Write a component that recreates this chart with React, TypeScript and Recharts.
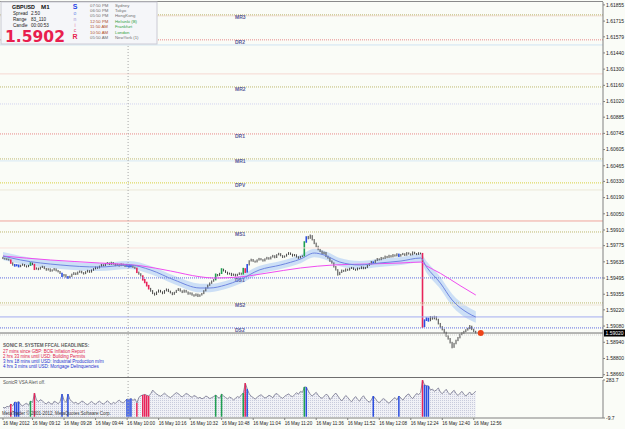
import React from 'react';
import { ComposedChart, Bar, Line, Area, XAxis, YAxis, ReferenceLine, ReferenceDot } from 'recharts';

// ---- price bars (GBPUSD M1, 16 May 2012 08:57 .. 12:57) ----
const closes = [
  1.59665, 1.59660, 1.59658, 1.59652, 1.59625, 1.59610, 1.59602, 1.59608, 1.59595, 1.59605,
  1.59612, 1.59600, 1.59594, 1.59603, 1.59624, 1.59615, 1.59572, 1.59580, 1.59571, 1.59586,
  1.59593, 1.59578, 1.59565, 1.59574, 1.59556, 1.59563, 1.59575, 1.59560, 1.59552, 1.59538,
  1.59512, 1.59524, 1.59506, 1.59498, 1.59509, 1.59527, 1.59539, 1.59528, 1.59545, 1.59553,
  1.59541, 1.59532, 1.59548, 1.59559, 1.59546, 1.59562, 1.59574, 1.59588, 1.59581, 1.59596,
  1.59609, 1.59602, 1.59618, 1.59625, 1.59613, 1.59629, 1.59617, 1.59604, 1.59612, 1.59601,
  1.59615, 1.59606, 1.59598, 1.59609, 1.59593, 1.59602, 1.59590, 1.59581, 1.59546, 1.59532,
  1.59515, 1.59482, 1.59458, 1.59431, 1.59405, 1.59386, 1.59364, 1.59351, 1.59373, 1.59389,
  1.59376, 1.59362, 1.59385, 1.59398, 1.59381, 1.59369, 1.59354, 1.59370, 1.59387, 1.59401,
  1.59384, 1.59372, 1.59389, 1.59375, 1.59358, 1.59366, 1.59350, 1.59342, 1.59356, 1.59339,
  1.59348, 1.59360, 1.59384, 1.59409, 1.59432, 1.59450, 1.59468, 1.59479, 1.59526, 1.59517,
  1.59534, 1.59572, 1.59559, 1.59546, 1.59531, 1.59536, 1.59519, 1.59528, 1.59515, 1.59526,
  1.59538, 1.59529, 1.59575, 1.59546, 1.59608, 1.59642, 1.59655, 1.59641, 1.59634, 1.59650,
  1.59662, 1.59654, 1.59643, 1.59659, 1.59671, 1.59660, 1.59676, 1.59688, 1.59672, 1.59695,
  1.59706, 1.59689, 1.59675, 1.59684, 1.59699, 1.59712, 1.59701, 1.59687, 1.59696, 1.59679,
  1.59668, 1.59680, 1.59685, 1.59805, 1.59846, 1.59838, 1.59862, 1.59828, 1.59796, 1.59769,
  1.59742, 1.59728, 1.59705, 1.59716, 1.59683, 1.59669, 1.59642, 1.59626, 1.59594, 1.59568,
  1.59525, 1.59543, 1.59561, 1.59554, 1.59572, 1.59563, 1.59578, 1.59584, 1.59571, 1.59565,
  1.59580, 1.59576, 1.59589, 1.59577, 1.59585, 1.59604, 1.59618, 1.59635, 1.59627, 1.59646,
  1.59661, 1.59653, 1.59670, 1.59664, 1.59682, 1.59673, 1.59689, 1.59678, 1.59695, 1.59686,
  1.59702, 1.59684, 1.59697, 1.59705, 1.59692, 1.59713, 1.59704, 1.59696, 1.59718, 1.59707,
  1.59699, 1.59712, 1.59706, 1.59090, 1.59130, 1.59148, 1.59126, 1.59159, 1.59142, 1.59161,
  1.59138, 1.59102, 1.59074, 1.59051, 1.59026, 1.58996, 1.58972, 1.58939, 1.58898, 1.58928,
  1.58955, 1.58979, 1.59006, 1.59019, 1.59032, 1.59046, 1.59058, 1.59079, 1.59052, 1.59034, 1.59020,
];
const highs = [
  1.59678, 1.59671, 1.59667, 1.59663, 1.59656, 1.59631, 1.59617, 1.59615, 1.59612, 1.59610,
  1.59620, 1.59616, 1.59605, 1.59609, 1.59632, 1.59629, 1.59618, 1.59587, 1.59585, 1.59592,
  1.59601, 1.59597, 1.59582, 1.59580, 1.59579, 1.59570, 1.59581, 1.59578, 1.59565, 1.59556,
  1.59541, 1.59530, 1.59528, 1.59512, 1.59515, 1.59533, 1.59546, 1.59543, 1.59551, 1.59560,
  1.59558, 1.59546, 1.59554, 1.59566, 1.59563, 1.59569, 1.59580, 1.59595, 1.59593, 1.59602,
  1.59616, 1.59614, 1.59625, 1.59633, 1.59629, 1.59636, 1.59633, 1.59621, 1.59619, 1.59616,
  1.59622, 1.59619, 1.59610, 1.59617, 1.59613, 1.59609, 1.59606, 1.59594, 1.59585, 1.59551,
  1.59537, 1.59519, 1.59487, 1.59463, 1.59436, 1.59410, 1.59391, 1.59369, 1.59379, 1.59396,
  1.59393, 1.59380, 1.59391, 1.59405, 1.59402, 1.59386, 1.59373, 1.59376, 1.59393, 1.59408,
  1.59406, 1.59389, 1.59395, 1.59393, 1.59379, 1.59372, 1.59370, 1.59355, 1.59362, 1.59360,
  1.59354, 1.59366, 1.59390, 1.59415, 1.59438, 1.59457, 1.59474, 1.59486, 1.59534, 1.59530,
  1.59540, 1.59580, 1.59576, 1.59563, 1.59550, 1.59542, 1.59540, 1.59534, 1.59532, 1.59532,
  1.59544, 1.59542, 1.59583, 1.59580, 1.59616, 1.59649, 1.59662, 1.59659, 1.59646, 1.59656,
  1.59669, 1.59667, 1.59658, 1.59665, 1.59678, 1.59675, 1.59682, 1.59695, 1.59692, 1.59701,
  1.59713, 1.59710, 1.59693, 1.59690, 1.59705, 1.59719, 1.59716, 1.59705, 1.59702, 1.59700,
  1.59683, 1.59686, 1.59691, 1.59813, 1.59856, 1.59859, 1.59871, 1.59866, 1.59832, 1.59801,
  1.59774, 1.59747, 1.59732, 1.59723, 1.59720, 1.59688, 1.59673, 1.59647, 1.59630, 1.59599,
  1.59572, 1.59549, 1.59568, 1.59566, 1.59578, 1.59576, 1.59584, 1.59591, 1.59588, 1.59576,
  1.59586, 1.59585, 1.59596, 1.59593, 1.59591, 1.59611, 1.59625, 1.59642, 1.59639, 1.59653,
  1.59668, 1.59665, 1.59677, 1.59674, 1.59689, 1.59686, 1.59696, 1.59693, 1.59702, 1.59699,
  1.59709, 1.59706, 1.59703, 1.59712, 1.59709, 1.59719, 1.59717, 1.59708, 1.59725, 1.59722,
  1.59711, 1.59718, 1.59715, 1.59712, 1.59138, 1.59156, 1.59153, 1.59167, 1.59164, 1.59169,
  1.59166, 1.59143, 1.59107, 1.59079, 1.59056, 1.59031, 1.59001, 1.58977, 1.58944, 1.58935,
  1.58962, 1.58986, 1.59013, 1.59026, 1.59039, 1.59053, 1.59065, 1.59089, 1.59083, 1.59057, 1.59039,
];
const lows = [
  1.59659, 1.59654, 1.59650, 1.59646, 1.59618, 1.59602, 1.59593, 1.59596, 1.59587, 1.59589,
  1.59601, 1.59593, 1.59586, 1.59589, 1.59600, 1.59608, 1.59564, 1.59568, 1.59563, 1.59568,
  1.59582, 1.59572, 1.59558, 1.59560, 1.59549, 1.59551, 1.59559, 1.59553, 1.59544, 1.59530,
  1.59504, 1.59508, 1.59499, 1.59489, 1.59493, 1.59505, 1.59522, 1.59521, 1.59524, 1.59540,
  1.59535, 1.59525, 1.59529, 1.59543, 1.59540, 1.59542, 1.59558, 1.59570, 1.59575, 1.59578,
  1.59592, 1.59596, 1.59599, 1.59613, 1.59607, 1.59609, 1.59611, 1.59598, 1.59599, 1.59594,
  1.59598, 1.59599, 1.59591, 1.59592, 1.59586, 1.59588, 1.59583, 1.59574, 1.59538, 1.59524,
  1.59508, 1.59473, 1.59450, 1.59422, 1.59396, 1.59377, 1.59356, 1.59343, 1.59348, 1.59369,
  1.59370, 1.59355, 1.59359, 1.59380, 1.59374, 1.59362, 1.59347, 1.59350, 1.59366, 1.59383,
  1.59378, 1.59365, 1.59368, 1.59369, 1.59351, 1.59352, 1.59343, 1.59334, 1.59338, 1.59331,
  1.59333, 1.59344, 1.59356, 1.59380, 1.59405, 1.59428, 1.59445, 1.59463, 1.59475, 1.59510,
  1.59513, 1.59530, 1.59552, 1.59539, 1.59524, 1.59525, 1.59512, 1.59514, 1.59508, 1.59511,
  1.59522, 1.59523, 1.59525, 1.59539, 1.59542, 1.59604, 1.59638, 1.59635, 1.59628, 1.59630,
  1.59646, 1.59648, 1.59637, 1.59639, 1.59655, 1.59654, 1.59656, 1.59672, 1.59666, 1.59668,
  1.59691, 1.59683, 1.59668, 1.59671, 1.59680, 1.59695, 1.59695, 1.59680, 1.59683, 1.59672,
  1.59661, 1.59664, 1.59676, 1.59681, 1.59800, 1.59830, 1.59834, 1.59820, 1.59788, 1.59761,
  1.59735, 1.59720, 1.59698, 1.59700, 1.59676, 1.59662, 1.59635, 1.59619, 1.59586, 1.59560,
  1.59516, 1.59520, 1.59539, 1.59548, 1.59550, 1.59557, 1.59559, 1.59573, 1.59565, 1.59558,
  1.59561, 1.59570, 1.59572, 1.59571, 1.59572, 1.59581, 1.59600, 1.59614, 1.59620, 1.59623,
  1.59642, 1.59647, 1.59649, 1.59658, 1.59660, 1.59667, 1.59669, 1.59672, 1.59674, 1.59680,
  1.59682, 1.59677, 1.59680, 1.59693, 1.59686, 1.59688, 1.59698, 1.59689, 1.59692, 1.59701,
  1.59693, 1.59695, 1.59700, 1.59065, 1.59072, 1.59124, 1.59118, 1.59122, 1.59135, 1.59138,
  1.59130, 1.59094, 1.59066, 1.59043, 1.59018, 1.58988, 1.58963, 1.58930, 1.58888, 1.58892,
  1.58923, 1.58950, 1.58974, 1.59001, 1.59014, 1.59027, 1.59041, 1.59053, 1.59045, 1.59028, 1.59016,
];

// ---- SonicR VSA (tick volume) ----
const volumes = [
  72, 68, 80, 75, 98, 85, 114, 110, 116, 92,
  84, 96, 105, 88, 121, 110, 183, 128, 118, 132,
  122, 108, 98, 115, 104, 96, 120, 112, 100, 118,
  175, 126, 110, 175, 132, 118, 104, 112, 98, 106,
  122, 114, 100, 92, 108, 118, 104, 96, 112, 120,
  106, 98, 110, 124, 108, 96, 112, 102, 118, 128,
  114, 106, 120, 137, 134, 140, 126, 138, 106, 150,
  162, 168, 172, 165, 160, 178, 206, 188, 176, 165,
  158, 170, 182, 168, 155, 148, 160, 174, 186, 178,
  164, 152, 168, 180, 172, 158, 150, 164, 156, 142,
  150, 138, 146, 160, 152, 140, 148, 156, 168, 150,
  144, 175, 160, 148, 138, 152, 144, 130, 142, 156,
  148, 170, 183, 260, 214, 176, 158, 148, 136, 150,
  162, 170, 156, 144, 152, 166, 158, 146, 172, 180,
  164, 150, 142, 158, 168, 176, 162, 154, 170, 186,
  174, 196, 188, 230, 229, 198, 172, 160, 176, 188,
  166, 150, 142, 158, 174, 164, 132, 148, 170, 182,
  160, 138, 122, 144, 164, 150, 128, 116, 140, 156,
  134, 120, 146, 162, 138, 124, 112, 130, 160, 142,
  118, 108, 126, 140, 132, 114, 104, 122, 136, 148,
  130, 160, 144, 128, 150, 168, 176, 152, 140, 162,
  180, 170, 188, 283, 245, 240, 238, 206, 214, 196,
  208, 222, 190, 178, 196, 212, 186, 170, 192, 204,
  178, 164, 182, 196, 172, 160, 178, 190, 168, 184, 196,
];
const vsaRed = [4, 16, 68, 71, 72, 73, 74, 123, 213];
const vsaBlue = [6, 7, 8, 30, 33, 63, 64, 65, 124, 154, 188, 201, 214, 215, 216];
const vsaGreen = [14, 108, 111, 122, 153];

// ---- moving averages (read at sample bars) ----
const dragonIdx = [0, 9, 29, 49, 64, 75, 87, 100, 105, 113, 120, 130, 141, 151, 158, 163, 171, 181, 191, 202, 212, 215, 222, 228, 236, 240];
const dragonMid = [1.59685, 1.59651, 1.59608, 1.59590, 1.59608, 1.59564, 1.59478, 1.59409, 1.59409, 1.59435, 1.59478, 1.59564, 1.59608, 1.59659, 1.59711, 1.59694, 1.59633, 1.59608, 1.59625, 1.59642, 1.59668, 1.59590, 1.59452, 1.59305, 1.59193, 1.59158];
const dragonHigh = [1.59720, 1.59686, 1.59643, 1.59625, 1.59643, 1.59600, 1.59514, 1.59446, 1.59445, 1.59470, 1.59513, 1.59599, 1.59643, 1.59695, 1.59748, 1.59730, 1.59669, 1.59643, 1.59660, 1.59677, 1.59704, 1.59640, 1.59505, 1.59358, 1.59245, 1.59208];
const dragonLow = [1.59650, 1.59616, 1.59573, 1.59555, 1.59573, 1.59528, 1.59442, 1.59372, 1.59373, 1.59400, 1.59443, 1.59529, 1.59573, 1.59623, 1.59674, 1.59658, 1.59597, 1.59573, 1.59590, 1.59607, 1.59632, 1.59540, 1.59400, 1.59252, 1.59141, 1.59108];
const slowIdx = [0, 24, 49, 70, 85, 100, 107, 120, 134, 151, 168, 185, 202, 212, 215, 222, 232, 240];
const slowMa = [1.59685, 1.59651, 1.59625, 1.59601, 1.59556, 1.59506, 1.59495, 1.59504, 1.59538, 1.59582, 1.59608, 1.59616, 1.59625, 1.59633, 1.59600, 1.59536, 1.59430, 1.59348];

// ---- levels ----
const levelNames = ['MR3', 'DR2', 'MR2', 'DR1', 'MR1', 'DPV', 'MS1', 'DS1', 'MS2', 'DS2'];
const levelValues = [1.61769, 1.61553, 1.61146, 1.60740, 1.60524, 1.60317, 1.59893, 1.59496, 1.59280, 1.59064];
const extraLevels = [1.61760, 1.61509, 1.61259, 1.60999, 1.60507, 1.60256, 1.59988, 1.59755, 1.59262, 1.59159, 1.59003];
const bidPrice = 1.5902;

// ---- axes ----
const priceTicks = [1.61855, 1.61715, 1.61579, 1.61440, 1.61300, 1.61160, 1.61020, 1.60885, 1.60745, 1.60605, 1.60465, 1.60330, 1.60190, 1.60050, 1.59910, 1.59775, 1.59635, 1.59495, 1.59355, 1.59220, 1.59080, 1.58940, 1.58800, 1.58660];
const volTicks = [283.7, -9.7];
const timeTickIdx = [0, 15, 31, 47, 63, 79, 95, 111, 127, 143, 159, 175, 191, 207, 223, 239];
const timeTickLabels = ['16 May 2012', '16 May 09:12', '16 May 09:28', '16 May 09:44', '16 May 10:00', '16 May 10:16', '16 May 10:32', '16 May 10:48', '16 May 11:04', '16 May 11:20', '16 May 11:36', '16 May 11:52', '16 May 12:08', '16 May 12:24', '16 May 12:40', '16 May 12:56'];

// ---- info panel texts ----
const sessionTimes = ['07:50 PM', '06:50 PM', '05:50 PM', '12:50 PM', '11:50 AM', '10:50 AM', '05:50 AM'];
const sessionNames = ['Sydney', 'Tokyo', 'HongKong', 'Helsinki (B)', 'Frankfurt', 'London', 'NewYork (1)'];
const headlines = [
  '27 mins since GBP: BOE Inflation Report',
  '2 hrs 33 mins until USD: Building Permits',
  '3 hrs 18 mins until USD: Industrial Production m/m',
  '4 hrs 3 mins until USD: Mortgage Delinquencies',
];

// ---------------------------------------------------------------
const FONT = 'Liberation Sans, Arial, sans-serif';
const BG = '#FAFCF7';
const X_DOMAIN = [-1.523, 304.57];
const vsaColor = { r: '#E8245A', b: '#2C4FE0', g: '#1FA050' };

const vsaOf = (i) => (vsaRed.includes(i) ? 'r' : vsaBlue.includes(i) ? 'b' : vsaGreen.includes(i) ? 'g' : '');

const rows = closes.map((c, i) => ({
  i,
  close: c,
  range: [lows[i], highs[i]],
  vsa: vsaOf(i),
  vol: volumes[i],
  volC: vsaOf(i) ? volumes[i] : null,
}));
const dragonRows = dragonIdx.map((i, k) => ({ i, mid: dragonMid[k], band: [dragonLow[k], dragonHigh[k]] }));
const slowRows = slowIdx.map((i, k) => ({ i, ma: slowMa[k] }));

const Candle = (props) => {
  const { x, y, width, height, payload } = props;
  if (x == null || y == null) return null;
  const col = vsaColor[payload.vsa] || '#454545';
  const w = payload.vsa ? 1.6 : 1;
  const cx = x + width / 2;
  return <rect x={cx - w / 2} y={y} width={w} height={Math.max(1, height)} fill={col} />;
};

const VolBar = (props) => {
  const { x, y, width, height, payload } = props;
  if (x == null || y == null || !payload.vsa) return null;
  const cx = x + width / 2;
  return <rect x={cx - 0.75} y={y} width={1.5} height={Math.max(1, height)} fill={vsaColor[payload.vsa]} />;
};

const PriceTick = ({ x, y, payload }) => (
  <text x={x} y={y + 1.8} fontSize={5} fontFamily={FONT} fill="#222" textAnchor="start">
    {Number(payload.value).toFixed(5)}
  </text>
);
const VolTick = ({ x, y, payload }) => (
  <text x={x} y={y + 1.8} fontSize={5} fontFamily={FONT} fill="#222" textAnchor="start">
    {String(payload.value)}
  </text>
);
const TimeTick = ({ x, y, payload }) => {
  const k = timeTickIdx.indexOf(payload.value);
  return (
    <text x={x} y={y + 5.2} fontSize={4.6} fontFamily={FONT} fill="#222" textAnchor="start">
      {timeTickLabels[k]}
    </text>
  );
};

const levelStyle = (name) => {
  if (name === 'DPV') return { stroke: '#D8D040', dash: '1 1' };
  if (name.startsWith('M')) return { stroke: '#BDB870', dash: '1 1' };
  if (name.startsWith('DR')) return { stroke: '#E88888', dash: '1 1' };
  return { stroke: '#5E6AE0', dash: '1 1' };
};
const extraStyles = [
  { stroke: '#F2DCD4', dash: undefined },
  { stroke: '#CFE3F2', dash: undefined },
  { stroke: '#F6D8D2', dash: undefined },
  { stroke: '#D2D4F0', dash: '1 1' },
  { stroke: '#D6E8F4', dash: undefined },
  { stroke: '#ECE8D8', dash: undefined },
  { stroke: '#F0A49C', dash: undefined },
  { stroke: '#F8E0DC', dash: undefined },
  { stroke: '#F0E6D8', dash: undefined },
  { stroke: '#A4ACF0', dash: undefined },
  { stroke: '#D4D4D4', dash: '1 1' },
];

const makeLevelLabel = (name) => (p) => {
  const vb = p.viewBox || {};
  return (
    <text x={235} y={(vb.y || 0) + 4.3} fontSize={5} fontWeight="bold" fontFamily={FONT} fill="#5A5A98">
      {name}
    </text>
  );
};

const BidLabel = (p) => {
  const vb = p.viewBox || {};
  const y = vb.y || 0;
  return (
    <g>
      <rect x={604} y={y - 3.5} width={21} height={7} fill="#000" />
      <text x={605.5} y={y + 1.8} fontSize={5} fontFamily={FONT} fill="#fff">
        {bidPrice.toFixed(5)}
      </text>
    </g>
  );
};

const sonic = [
  { t: 'S', y: 8.6, c: '#1E3FE6', b: true },
  { t: 'o', y: 15, c: '#6C8CE8', b: false },
  { t: 'n', y: 21, c: '#9C8CD0', b: false },
  { t: 'i', y: 26.8, c: '#E07CB0', b: false },
  { t: 'c', y: 32.4, c: '#E0406C', b: false },
  { t: 'R', y: 39, c: '#E81E4E', b: true },
];
const sessionRowY = [7.3, 12.3, 17.3, 22.6, 28.3, 34.3, 39.3];
const timeColors = ['#707070', '#707070', '#707070', '#B0502A', '#B0502A', '#B0502A', '#707070'];
const nameColors = ['#707070', '#707070', '#707070', '#2E9E3A', '#2E9E3A', '#2E9E3A', '#707070'];
const headlineColors = ['#E0204E', '#E0204E', '#2030D0', '#2030D0'];

export default function App() {
  return (
    <div style={{ position: 'absolute', left: 0, top: 0, width: 625, height: 429, background: BG, overflow: 'hidden' }}>
      <div style={{ position: 'absolute', left: 0, top: 0 }}>
        <ComposedChart width={625} height={378} data={rows} margin={{ top: 2, right: 0, bottom: 1, left: 0 }}>
          <XAxis dataKey="i" type="number" domain={X_DOMAIN} allowDataOverflow hide />
          <YAxis
            yAxisId={0}
            orientation="right"
            width={22}
            type="number"
            domain={[1.5864, 1.6188]}
            allowDataOverflow
            ticks={priceTicks}
            interval={0}
            tick={PriceTick}
            tickSize={2}
            tickMargin={1}
            axisLine={{ stroke: '#808080' }}
            tickLine={{ stroke: '#808080' }}
          />
          {extraLevels.map((v, k) => (
            <ReferenceLine key={'x' + k} y={v} stroke={extraStyles[k].stroke} strokeDasharray={extraStyles[k].dash} ifOverflow="visible" />
          ))}
          {levelValues.map((v, k) => {
            const st = levelStyle(levelNames[k]);
            return (
              <ReferenceLine key={'l' + k} y={v} stroke={st.stroke} strokeDasharray={st.dash} label={makeLevelLabel(levelNames[k])} />
            );
          })}
          <ReferenceLine x={63.5} stroke="#A8A8A8" strokeDasharray="1 2" />
          <ReferenceLine y={bidPrice} stroke="#6E6E6E" label={BidLabel} />
          <Area
            data={dragonRows}
            dataKey="band"
            type="monotone"
            stroke="none"
            fill="#C6DBF5"
            fillOpacity={0.9}
            isAnimationActive={false}
          />
          <Bar dataKey="range" barSize={2} shape={Candle} isAnimationActive={false} />
          <Line data={slowRows} dataKey="ma" type="monotone" stroke="#F04CF0" strokeWidth={1} dot={false} isAnimationActive={false} />
          <Line data={dragonRows} dataKey="mid" type="monotone" stroke="#6F86E0" strokeWidth={1} dot={false} isAnimationActive={false} />
          <ReferenceDot x={242.5} y={bidPrice} r={3} fill="#EE4418" stroke="none" />
        </ComposedChart>
      </div>

      <div style={{ position: 'absolute', left: 0, top: 378 }}>
        <ComposedChart width={625} height={51} data={rows} margin={{ top: 2, right: 0, bottom: 0, left: 0 }}>
          <defs>
            <pattern id="volPat" width="2" height="2" patternUnits="userSpaceOnUse">
              <rect x="0" y="0" width="2" height="2" fill="#F0F1F6" />
              <rect x="0" y="0" width="1" height="1" fill="#C8CBDC" />
            </pattern>
          </defs>
          <XAxis
            dataKey="i"
            type="number"
            domain={X_DOMAIN}
            allowDataOverflow
            height={11}
            ticks={timeTickIdx}
            interval={0}
            tick={TimeTick}
            tickSize={2}
            tickMargin={0}
            axisLine={{ stroke: '#808080' }}
            tickLine={{ stroke: '#808080' }}
          />
          <YAxis
            orientation="right"
            width={22}
            type="number"
            domain={[-9.7, 283.7]}
            allowDataOverflow
            ticks={volTicks}
            interval={0}
            tick={VolTick}
            tickSize={2}
            tickMargin={1}
            axisLine={{ stroke: '#808080' }}
            tickLine={{ stroke: '#808080' }}
          />
          <ReferenceLine x={63.5} stroke="#A8A8A8" strokeDasharray="1 2" />
          <Area dataKey="vol" type="linear" stroke="#8C8CA0" strokeWidth={1} fill="url(#volPat)" fillOpacity={1} isAnimationActive={false} />
          <Bar dataKey="volC" barSize={2} shape={VolBar} isAnimationActive={false} />
        </ComposedChart>
      </div>

      <svg width={625} height={429} style={{ position: 'absolute', left: 0, top: 0, pointerEvents: 'none' }}>
        <line x1={0} x2={603} y1={1.5} y2={1.5} stroke="#8A8A8A" />
        <line x1={0} x2={603} y1={377.5} y2={377.5} stroke="#6E6E6E" />

        <rect x={1} y={2} width={156} height={42} fill="#F5F6F9" stroke="#CACAD4" />
        <text x={12} y={8.8} fontSize={6.2} fontWeight="bold" fontFamily={FONT} fill="#111" textLength={23} lengthAdjust="spacingAndGlyphs">GBPUSD</text>
        <text x={41} y={8.8} fontSize={6.2} fontWeight="bold" fontFamily={FONT} fill="#111">M1</text>
        <text x={13} y={14.6} fontSize={4.6} fontFamily={FONT} fill="#222">Spread</text>
        <text x={31} y={14.6} fontSize={4.6} fontFamily={FONT} fill="#222">2.50</text>
        <text x={13} y={20.6} fontSize={4.6} fontFamily={FONT} fill="#222">Range</text>
        <text x={31} y={20.6} fontSize={4.6} fontFamily={FONT} fill="#222">83_110</text>
        <text x={13} y={26.6} fontSize={4.6} fontFamily={FONT} fill="#222">Candle</text>
        <text x={31} y={26.6} fontSize={4.6} fontFamily={FONT} fill="#222">00:00:53</text>
        <text x={5} y={41.5} fontSize={16} fontWeight="bold" fontFamily="DejaVu Sans, sans-serif" fill="#E81E4E" textLength={60} lengthAdjust="spacingAndGlyphs">1.5902</text>
        {sonic.map((s, k) => (
          <text key={'s' + k} x={75} y={s.y} fontSize={s.b ? 7 : 5} fontWeight={s.b ? 'bold' : 'normal'} fontFamily={FONT} fill={s.c} textAnchor="middle">
            {s.t}
          </text>
        ))}
        {sessionTimes.map((t, k) => (
          <text key={'t' + k} x={90} y={sessionRowY[k]} fontSize={4.3} fontFamily={FONT} fill={timeColors[k]}>{t}</text>
        ))}
        {sessionNames.map((t, k) => (
          <text key={'n' + k} x={115} y={sessionRowY[k]} fontSize={4.3} fontFamily={FONT} fill={nameColors[k]}>{t}</text>
        ))}

        <text x={3} y={347.2} fontSize={4.6} fontWeight="bold" fontFamily={FONT} fill="#606060">SONIC R. SYSTEM  FFCAL HEADLINES:</text>
        {headlines.map((h, k) => (
          <text key={'h' + k} x={3} y={352.5 + k * 5.1} fontSize={4.5} fontFamily={FONT} fill={headlineColors[k]}>{h}</text>
        ))}

        <text x={3} y={383.5} fontSize={4.5} fontFamily={FONT} fill="#505050">SonicR VSA    Alert off.</text>
        <text x={2} y={415} fontSize={4.5} fontFamily={FONT} fill="#3A3A3A">MetaTrader © 2001-2012, MetaQuotes Software Corp.</text>
      </svg>
    </div>
  );
}
